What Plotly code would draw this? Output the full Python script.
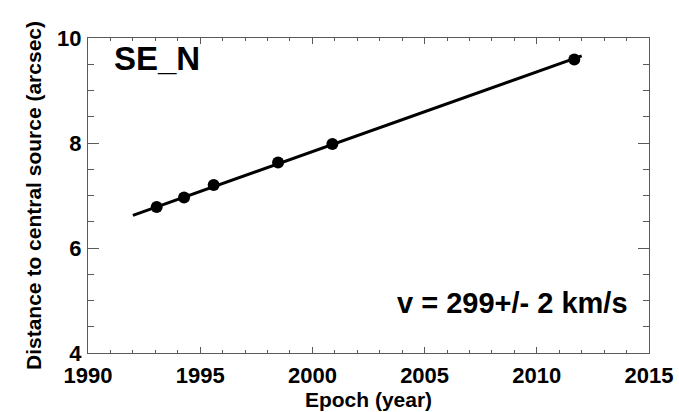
import plotly.graph_objects as go

epoch = [1993.06, 1994.28, 1995.60, 1998.47, 2000.89, 2011.67]
distance = [6.78, 6.96, 7.20, 7.63, 7.98, 9.59]
fit_epoch = [1992.0, 2012.0]
fit_distance = [6.62, 9.66]

label_text = "SE_N"
velocity_text = "v = 299+/- 2 km/s"
x_title = "Epoch (year)"
y_title = "Distance to central source (arcsec)"

FONT = "Liberation Sans, Arial, Helvetica, sans-serif"
AXC = "#5a5a5a"

fig = go.Figure()
fig.add_trace(go.Scatter(x=fit_epoch, y=fit_distance, mode="lines",
                         line=dict(color="black", width=3), showlegend=False))
fig.add_trace(go.Scatter(x=epoch, y=distance, mode="markers",
                         marker=dict(color="black", size=12), showlegend=False))

fig.add_annotation(text="<b>%s</b>" % label_text, xref="paper", yref="paper",
                   x=0.043, y=1.0, xanchor="left", yanchor="top", showarrow=False,
                   font=dict(family=FONT, size=33, color="black"))
fig.add_annotation(text="<b>%s</b>" % velocity_text, xref="paper", yref="paper",
                   x=0.966, y=0.158, xanchor="right", yanchor="middle", showarrow=False,
                   font=dict(family=FONT, size=29, color="black"))

fig.update_layout(
    width=679, height=412,
    margin=dict(l=88, r=30, t=38, b=59),
    plot_bgcolor="white", paper_bgcolor="white",
    font=dict(family=FONT, color="black"),
    xaxis=dict(range=[1990, 2015], tickmode="linear", tick0=1990, dtick=5,
               ticks="inside", ticklen=6, tickcolor=AXC, tickwidth=1,
               minor=dict(dtick=1, ticks="inside", ticklen=3, tickcolor=AXC),
               showline=True, linecolor=AXC, linewidth=1, mirror="ticks",
               showgrid=False, zeroline=False, ticklabelstandoff=3, automargin=False,
               tickfont=dict(size=22, family=FONT), tickprefix="<b>", ticksuffix="</b>",
               title=dict(text="<b>%s</b>" % x_title, font=dict(size=21, family=FONT), standoff=0)),
    yaxis=dict(range=[4, 10], tickmode="linear", tick0=4, dtick=2,
               ticks="inside", ticklen=11, tickcolor=AXC, tickwidth=1,
               minor=dict(dtick=0.5, ticks="inside", ticklen=6, tickcolor=AXC),
               showline=True, linecolor=AXC, linewidth=1, mirror="ticks",
               showgrid=False, zeroline=False, automargin=False, ticklabelstandoff=1,
               tickfont=dict(size=22, family=FONT), tickprefix="<b>", ticksuffix="</b>",
               title=dict(text="<b>%s</b>" % y_title, font=dict(size=21, family=FONT), standoff=9)),
)

fig.write_html("out.html")
